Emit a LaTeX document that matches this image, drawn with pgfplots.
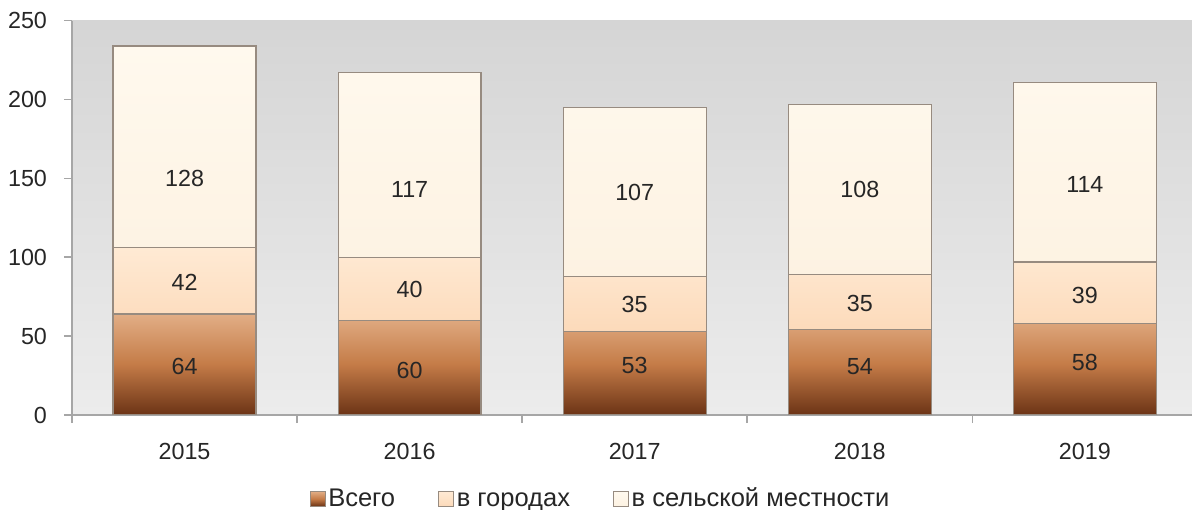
\documentclass[border=0pt]{standalone}
\usepackage{pgfplots}
\pgfplotsset{compat=1.18}
\usepackage{fontspec}
\setmainfont{Liberation Sans}
\definecolor{axisgray}{HTML}{A6A6A6}
\definecolor{txt}{HTML}{262626}
\definecolor{bgtop}{HTML}{D5D5D5}
\definecolor{bgbot}{HTML}{ECECEC}
\definecolor{brTop}{HTML}{E2AE86}
\definecolor{brMid}{HTML}{C47B47}
\definecolor{brBot}{HTML}{6B3315}
\definecolor{pkTop}{HTML}{FFEAD4}
\definecolor{pkBot}{HTML}{FCDABA}
\definecolor{crTop}{HTML}{FFF9EE}
\definecolor{crBot}{HTML}{FDF2E2}
\definecolor{edge}{HTML}{978B80}

\pgfplotsset{
  common/.style={
    scale only axis, width=560bp, height=197.15bp,
    xmin=-0.5, xmax=4.476, ymin=0, ymax=250,
  }
}
\begin{document}
\begin{tikzpicture}
\useasboundingbox (-36bp,-47.5bp) rectangle (560bp,207.5bp);
\begin{axis}[common,
  ybar stacked, bar width=0.635,
  axis lines*=left,
  axis line style={draw=axisgray, line width=1bp},
  axis background/.style={top color=bgtop, bottom color=bgbot},
  ytick={0,50,...,250},
  xtick={0,1,2,3,4},
  xticklabels={2015,2016,2017,2018,2019},
  minor xtick={-0.5,0.5,1.5,2.5,3.5},
  tick align=outside,
  major tick length=4bp, minor tick length=4bp,
  tick style={draw=axisgray, line width=0.8bp},
  every major x tick/.style={draw=none},
  /pgf/number format/assume math mode=true,
  ticklabel style={font=\fontsize{11.7}{13}\selectfont, text=txt},
  xticklabel style={yshift=-6.5bp},
  yticklabel style={xshift=-5bp},
  legend columns=3,
  legend style={at={(0.5,0)}, anchor=center, xshift=-15.5bp, yshift=-43.5bp,
    draw=none, fill=none, font=\fontsize{12.8}{14}\selectfont, text=txt,
    /tikz/every even column/.append style={column sep=20bp},
    nodes={inner sep=1.5bp, text height=0.72em, text depth=0.22em}},
  legend image code/.code={\path (0bp,-6.4bp); \draw[#1, line width=0.3bp] (0bp,-2.4bp) rectangle (7.4bp,5bp);},
]
\addplot[draw=edge, line width=0.6bp, top color=brTop, bottom color=brBot, middle color=brMid]
  coordinates {(0,64) (1,60) (2,53) (3,54) (4,58)};
\addplot[draw=edge, line width=0.6bp, top color=pkTop, bottom color=pkBot]
  coordinates {(0,42) (1,40) (2,35) (3,35) (4,39)};
\addplot[draw=edge, line width=0.6bp, top color=crTop, bottom color=crBot]
  coordinates {(0,128) (1,117) (2,107) (3,108) (4,114)};
\legend{Всего, в городах, в сельской местности}
\end{axis}
\begin{axis}[common, hide axis,
  nodes near coords, point meta=explicit symbolic,
  every node near coord/.append style={anchor=center, font=\fontsize{11.7}{13}\selectfont, text=txt}]
\addplot[draw=none, mark=none] coordinates {(0,30.5)[64] (1,28.5)[60] (2,31.7)[53] (3,31)[54] (4,33.6)[58]};
\addplot[draw=none, mark=none] coordinates {(0,84.4)[42] (1,79.3)[40] (2,69.8)[35] (3,71)[35] (4,76)[39]};
\addplot[draw=none, mark=none] coordinates {(0,150)[128] (1,143)[117] (2,141)[107] (3,143)[108] (4,146)[114]};
\end{axis}
\end{tikzpicture}
\end{document}
